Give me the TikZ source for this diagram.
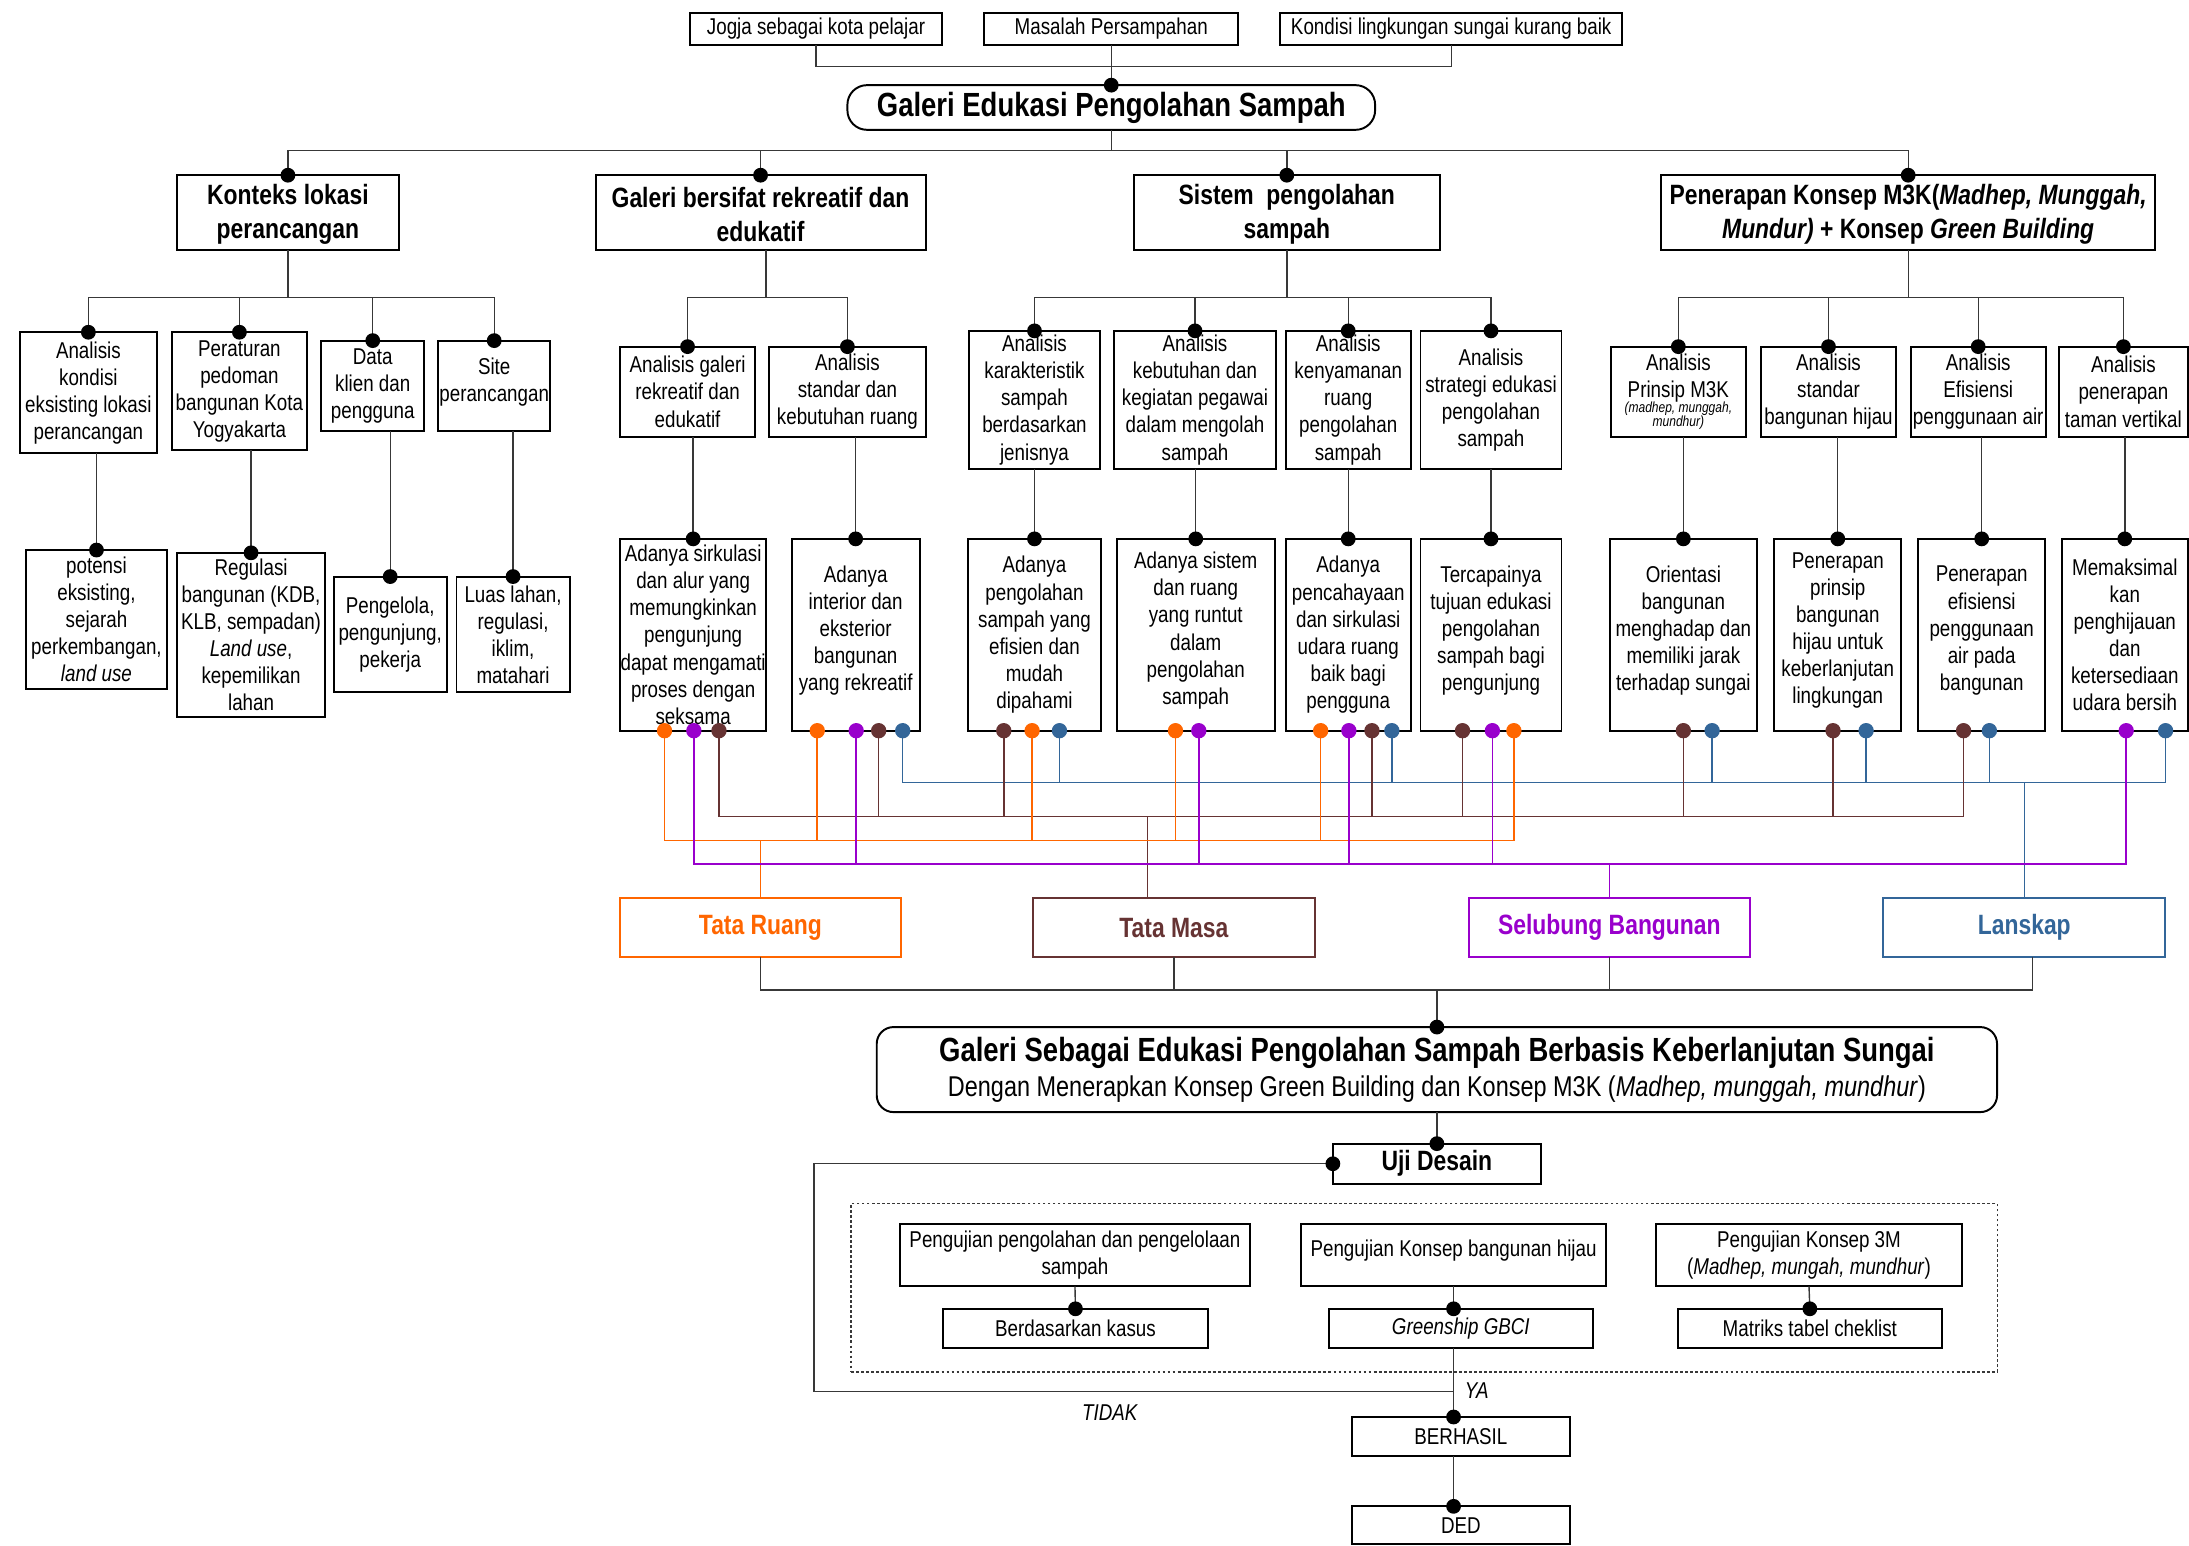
\documentclass[tikz,border=0pt]{standalone}
\usepackage{fontspec}
\setmainfont{Liberation Sans}[FakeStretch=0.82]

\definecolor{cOr}{HTML}{FF6600}
\definecolor{cPu}{HTML}{9900CC}
\definecolor{cBr}{HTML}{663333}
\definecolor{cBl}{HTML}{336699}
\definecolor{cLn}{HTML}{383838}

\newcommand\fsr{\fontsize{16.4}{19.4}\selectfont}
\newcommand\fsb{\fontsize{20}{24}\selectfont\bfseries}
\newcommand\fst{\fontsize{24}{28}\selectfont\bfseries}
% lifts a box text slightly above the box centre
\newcommand\lift{\\[-10pt]}

% box: name, centre x, centre y, width, height, text
\newcommand\bx[7][box]{\node[#1,minimum width=#5pt,minimum height=#6pt] (#2) at (#3,#4) {#7};}
% round connector end
\newcommand\pin[2][black]{\fill[#1] (#2) circle (5.3pt);}
% coloured link from the foot of a result box to a category bus
\newcommand\tap[4]{\draw[#3,cl] ([xshift=#2pt]#1.south) |- (#4);}
\newcommand\tpin[3]{\fill[#3] ([xshift=#2pt]#1.south) circle (5.5pt);}

\begin{document}
\begin{tikzpicture}[x=1pt,y=-1pt,
  box/.style={draw,line width=1.4pt,inner sep=0pt,outer sep=0pt,align=center,font=\fsr},
  hbox/.style={box,font=\fsb},
  rootbox/.style={box,rounded corners=14pt,font=\fst},
  catbox/.style={draw=#1,text=#1,line width=1.6pt,inner sep=0pt,outer sep=0pt,font=\fsb},
  conn/.style={draw=cLn,line width=1pt},
  cl/.style={line width=1.1pt},
  lbl/.style={font=\fsr\itshape,inner sep=0pt}]
\useasboundingbox[fill=white] (0,0) rectangle (1568,1107);

% ---------- background issues and main theme
\bx{jogja}{584.5}{20.5}{181}{23}{Jogja sebagai kota pelajar}
\bx{masalah}{796}{20.5}{182}{23}{Masalah Persampahan}
\bx{kondisi}{1039.5}{20.5}{245}{23}{Kondisi lingkungan sungai kurang baik}
\bx[rootbox]{root}{796}{77}{378}{32}{Galeri Edukasi Pengolahan Sampah}

% ---------- main aspects
\bx[hbox]{konteks}{206.25}{152.25}{158.5}{53.5}{\rule{0pt}{17pt}Konteks lokasi\\perancangan}
\bx[hbox]{rekreatif}{544.8}{152.25}{236.4}{53.5}{\rule{0pt}{17pt}Galeri bersifat rekreatif dan\\edukatif}
\bx[hbox]{sistem}{921.75}{152.25}{219.5}{53.5}{\rule{0pt}{17pt}Sistem\ \ pengolahan\\sampah}
\bx[hbox]{m3k}{1366.85}{152.25}{353.7}{53.5}{\rule{0pt}{17pt}Penerapan Konsep M3K(\textit{Madhep, Munggah,}\\\textit{Mundur)} + Konsep \textit{Green Building}}

% ---------- analyses
\bx{a1}{63.3}{281.4}{98.6}{86.8}{Analisis\\kondisi\\eksisting lokasi\\perancangan}
\bx{a2}{171.5}{280.25}{97}{84.5}{Peraturan\\pedoman\\bangunan Kota\\Yogyakarta}
\bx{a3}{267}{276.4}{74}{64.8}{Data\\klien dan\\pengguna}
\bx{a4}{354}{276.4}{80}{64.8}{Site\\perancangan\lift}
\bx{b1}{492.5}{280.65}{97}{64.7}{Analisis galeri\\rekreatif dan\\edukatif}
\bx{b2}{607}{280.65}{112}{64.7}{Analisis\\standar dan\\kebutuhan ruang}
\bx{c1}{741}{286.5}{94}{99}{Analisis\\karakteristik\\sampah\\berdasarkan\\jenisnya}
\bx{c2}{856}{286.5}{116.6}{99}{Analisis\\kebutuhan dan\\kegiatan pegawai\\dalam mengolah\\sampah}
\bx{c3}{965.75}{286.5}{89.5}{99}{Analisis\\kenyamanan\\ruang\\pengolahan\\sampah}
\bx{c4}{1068}{286.5}{101}{99}{Analisis\\strategi edukasi\\pengolahan\\sampah}
\bx{d1}{1202.2}{280.65}{97}{64.7}{Analisis\\Prinsip M3K\\[-4pt]{\fontsize{10.5}{8}\selectfont\itshape\begin{tabular}{@{}c@{}}(madhep, munggah,\\mundhur)\end{tabular}}}
\bx{d2}{1309.75}{280.65}{96.5}{64.7}{Analisis\\standar\\bangunan hijau}
\bx{d3}{1417}{280.65}{96.5}{64.7}{Analisis\\Efisiensi\\penggunaan air}
\bx{d4}{1521}{280.65}{92}{64.7}{Analisis\\penerapan\\taman vertikal}

% ---------- results
\bx{e1}{69.1}{443.65}{101}{99.3}{potensi\\eksisting,\\sejarah\\perkembangan,\\\textit{land use}}
\bx{e2}{179.85}{454.8}{105.7}{117.6}{Regulasi\\bangunan (KDB,\\KLB, sempadan)\\\textit{Land use},\\kepemilikan\\lahan}
\bx{e3}{279.5}{454.5}{81}{83}{Pengelola,\\pengunjung,\\pekerja}
\bx{e4}{367.5}{454.5}{81}{83}{Luas lahan,\\regulasi,\\iklim,\\matahari}
\bx{f1}{496.5}{454.7}{105}{137.4}{Adanya sirkulasi\\dan alur yang\\memungkinkan\\pengunjung\\dapat mengamati\\proses dengan\\seksama}
\bx{f2}{612.9}{454.7}{91.8}{137.4}{Adanya\\interior dan\\eksterior\\bangunan\\yang rekreatif\lift}
\bx{g1}{741}{454.7}{95}{137.4}{Adanya\\pengolahan\\sampah yang\\efisien dan\\mudah\\dipahami}
\bx{g2}{856.5}{454.7}{113}{137.4}{Adanya sistem\\dan ruang\\yang runtut\\dalam\\pengolahan\\sampah\lift}
\bx{g3}{965.75}{454.7}{89.5}{137.4}{Adanya\\pencahayaan\\dan sirkulasi\\udara ruang\\baik bagi\\pengguna}
\bx{g4}{1068}{454.7}{101}{137.4}{Tercapainya\\tujuan edukasi\\pengolahan\\sampah bagi\\pengunjung\lift}
\bx{h1}{1205.8}{454.7}{105.6}{137.4}{Orientasi\\bangunan\\menghadap dan\\memiliki jarak\\terhadap sungai\lift}
\bx{h2}{1316.4}{454.7}{91.2}{137.4}{Penerapan\\prinsip\\bangunan\\hijau untuk\\keberlanjutan\\lingkungan\lift}
\bx{h3}{1419.5}{454.7}{91}{137.4}{Penerapan\\efisiensi\\penggunaan\\air pada\\bangunan\lift}
\bx{h4}{1522}{454.7}{90}{137.4}{Memaksimal\\kan\\penghijauan\\dan\\ketersediaan\\udara bersih}

% ---------- design categories
\node[catbox=cOr,minimum width=201.4pt,minimum height=41.8pt] (ruang) at (544.7,664.4) {Tata Ruang};
\node[catbox=cBr,minimum width=202.1pt,minimum height=41.8pt] (masa) at (840.85,664.4) {Tata Masa};
\node[catbox=cPu,minimum width=201.6pt,minimum height=41.8pt] (selubung) at (1152.8,664.4) {Selubung Bangunan};
\node[catbox=cBl,minimum width=202pt,minimum height=41.8pt] (lanskap) at (1450,664.4) {Lanskap};

% ---------- concept, testing and outcome
\node[box,rounded corners=12pt,minimum width=802.5pt,minimum height=60.9pt,font=\fontsize{20.5}{25}\selectfont] (final) at (1029.25,766.15)
  {{\fontsize{24}{25}\selectfont\bfseries Galeri Sebagai Edukasi Pengolahan Sampah Berbasis Keberlanjutan Sungai}\\Dengan Menerapkan Konsep Green Building dan Konsep M3K (\textit{Madhep, munggah, mundhur})};
\bx[hbox]{uji}{1029.25}{833.6}{149}{28.8}{Uji Desain}
\node[draw=cLn,line width=0.8pt,dash pattern=on 2pt off 1.6pt,minimum width=820.9pt,minimum height=121pt,inner sep=0pt] (frame) at (1020.05,922.3) {};
\bx{p1}{770}{899.1}{250.7}{44.8}{Pengujian pengolahan dan pengelolaan\\sampah}
\bx{p2}{1041.2}{899.1}{218.4}{44.8}{Pengujian Konsep bangunan hijau\lift}
\bx{p3}{1295.8}{899.1}{218.8}{44.8}{Pengujian Konsep 3M\\(\textit{Madhep, mungah, mundhur})}
\bx{q1}{770.35}{951.4}{190}{27.8}{Berdasarkan kasus}
\bx{q2}{1046.4}{951.4}{189.3}{27.8}{\textit{Greenship GBCI}}
\bx{q3}{1296.4}{951.4}{189.2}{27.8}{Matriks tabel cheklist}
\bx{berhasil}{1046.4}{1029}{156}{28}{BERHASIL}
\bx{ded}{1046.4}{1092.5}{156}{27}{DED}
\node[lbl,anchor=west] (ya) at (1049,996) {YA};
\node[lbl] (tidak) at (795,1012) {TIDAK};

% ---------- black connectors
\coordinate (tb) at (796,47.8);
\draw[conn] (jogja.south) |- (tb) -| (kondisi.south);
\draw[conn] (masalah.south) -- (root.north);
\coordinate (bus2) at (796,108);
\draw[conn] (root.south) -- (bus2);
\foreach \n in {konteks,rekreatif,sistem,m3k} {\draw[conn] (bus2) -| (\n.north);}

\draw[conn] (konteks.south) -- ++(0,34) coordinate (busK);
\foreach \n in {a1,a2,a3,a4} {\draw[conn] (busK) -| (\n.north);}
\draw[conn] ([xshift=4pt]rekreatif.south) -- ++(0,34) coordinate (busR);
\foreach \n in {b1,b2} {\draw[conn] (busR) -| (\n.north);}
\draw[conn] (sistem.south) -- ++(0,34) coordinate (busS);
\foreach \n in {c1,c2,c3,c4} {\draw[conn] (busS) -| (\n.north);}
\draw[conn] (m3k.south) -- ++(0,34) coordinate (busM);
\foreach \n in {d1,d2,d3,d4} {\draw[conn] (busM) -| (\n.north);}

\foreach \p/\c in {a1/e1,a2/e2,a3/e3,a4/e4,b1/f1,b2/f2,c1/g1,c2/g2,c3/g3,c4/g4,d1/h1,d2/h2,d3/h3,d4/h4}
  {\draw[conn] (\c.north) -- (\c.north |- \p.south);}

% ---------- coloured links to the categories
\coordinate (busL) at (1450,560.4);
\coordinate (busB) at (822,585);
\coordinate (busO) at (544.7,602);
\coordinate (busP) at (1152.8,619);
\draw[cBl,cl] (busL) -- (lanskap.north);
\draw[cBr,cl] (busB) -- (busB |- masa.north);
\draw[cOr,cl] (busO) -- (ruang.north);
\draw[cPu,cl] (busP) -- (selubung.north);

\foreach \n/\dx in {f2/33.7,g1/17.9,g3/31.25,h1/20.6,h2/20.3,h3/5.5,h4/29.2} {\tap{\n}{\dx}{cBl}{busL}}
\foreach \n/\dx in {f1/18.5,f2/16.5,g1/-22,g3/17,g4/-20.4,h1/0,h2/-3.4,h3/-13} {\tap{\n}{\dx}{cBr}{busB}}
\foreach \n/\dx in {f1/-20.5,f2/-27.5,g1/-1.7,g2/-14.5,g3/-19.75,g4/16.4} {\tap{\n}{\dx}{cOr}{busO}}
\foreach \n/\dx in {f1/0.5,f2/0.4,g2/2.2,g3/0.45,g4/1,h4/1} {\tap{\n}{\dx}{cPu}{busP}}

\foreach \n/\dx in {f2/33.7,g1/17.9,g3/31.25,h1/20.6,h2/20.3,h3/5.5,h4/29.2} {\tpin{\n}{\dx}{cBl}}
\foreach \n/\dx in {f1/18.5,f2/16.5,g1/-22,g3/17,g4/-20.4,h1/0,h2/-3.4,h3/-13} {\tpin{\n}{\dx}{cBr}}
\foreach \n/\dx in {f1/-20.5,f2/-27.5,g1/-1.7,g2/-14.5,g3/-19.75,g4/16.4} {\tpin{\n}{\dx}{cOr}}
\foreach \n/\dx in {f1/0.5,f2/0.4,g2/2.2,g3/0.45,g4/1,h4/1} {\tpin{\n}{\dx}{cPu}}

% ---------- categories into the concept
\coordinate (bus5) at (1029.25,709.2);
\draw[conn] (ruang.south) |- (bus5);
\draw[conn] (masa.south) |- (bus5);
\draw[conn] (selubung.south) |- (bus5);
\draw[conn] ([xshift=5.7pt]lanskap.south) |- (bus5);
\draw[conn] (bus5) -- (final.north);
\draw[conn] (final.south) -- (uji.north);

% ---------- testing loop
\coordinate (loopc) at (583,996.7);
\coordinate (join) at (1041.2,996.7);
\draw[conn] (uji.west) -| (loopc) -- (join);
\draw[conn] (p1.south) -- (q1.north);
\draw[conn] (p2.south) -- (p2.south |- q2.north);
\draw[conn] (p3.south) -- (q3.north);
\draw[conn] (p2.south |- q2.south) -- (p2.south |- berhasil.north);
\draw[conn] (p2.south |- berhasil.south) -- (p2.south |- ded.north);

% ---------- connector ends
\foreach \n in {root,konteks,rekreatif,sistem,m3k,a1,a2,a3,a4,b1,b2,c1,c2,c3,c4,d1,d2,d3,d4,e1,e2,e3,e4,f1,f2,g1,g2,g3,g4,h1,h2,h3,h4,final,uji,q1,q3}
  {\pin{\n.north}}
\foreach \n in {q2,berhasil,ded} {\pin{p2.south |- \n.north}}
\pin{uji.west}
\end{tikzpicture}
\end{document}
